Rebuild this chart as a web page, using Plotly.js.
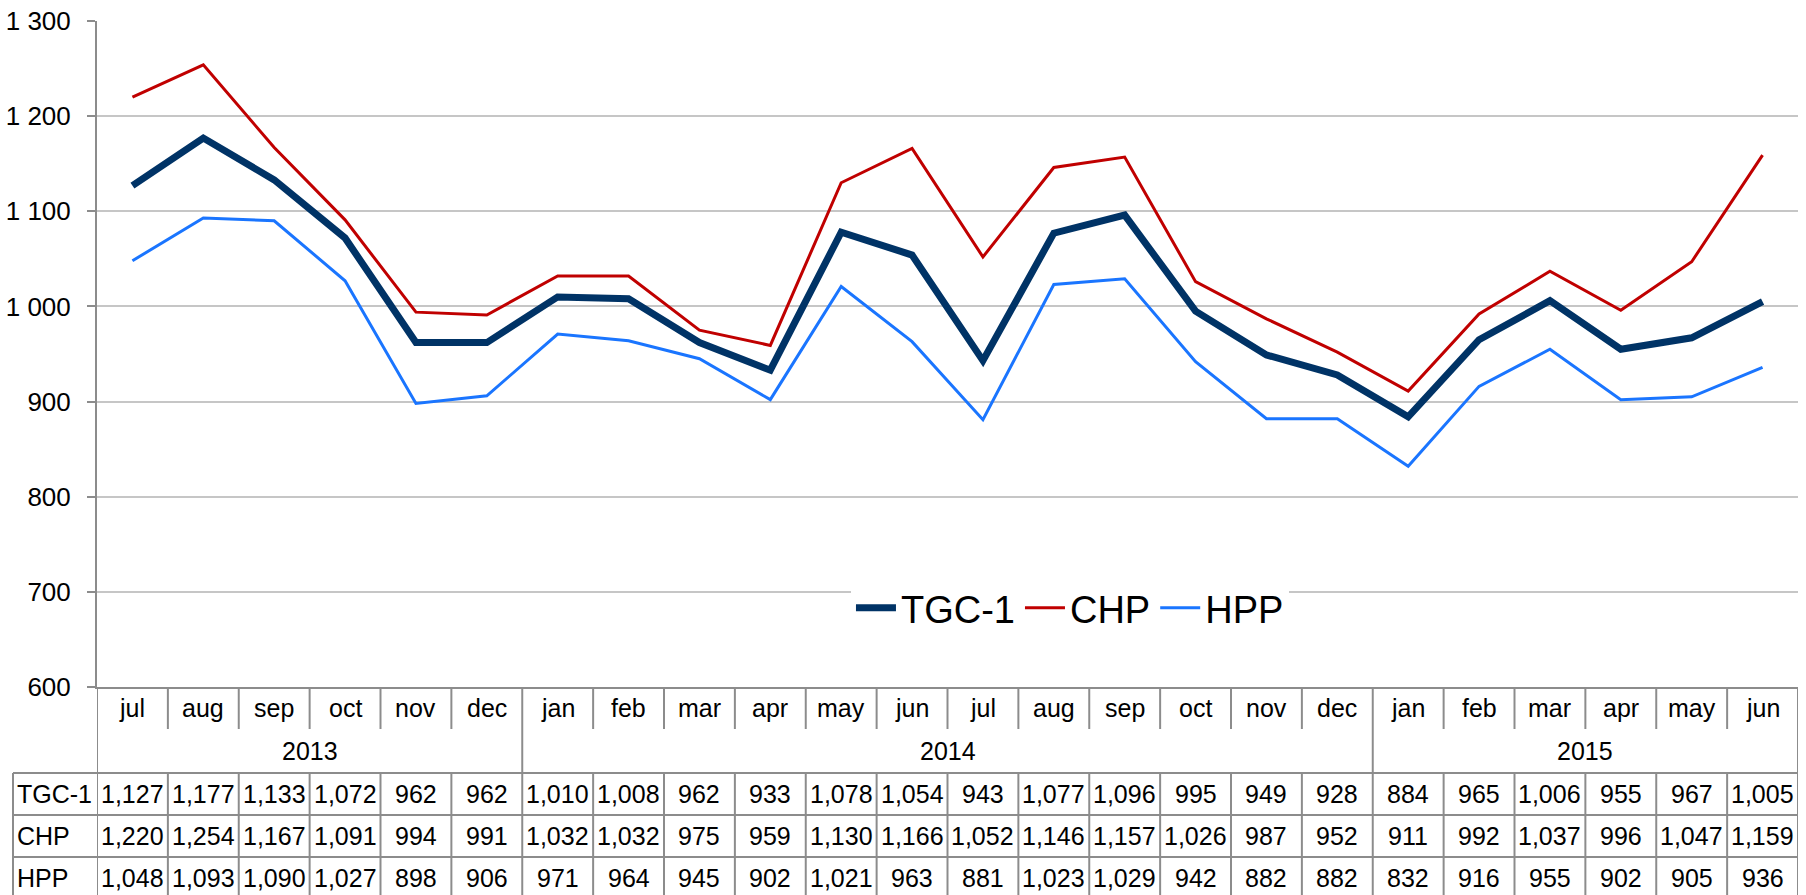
<!DOCTYPE html>
<html>
<head>
<meta charset="utf-8">
<script src="https://cdn.plot.ly/plotly-3.0.1.min.js"></script>
<style>
  html, body { margin: 0; padding: 0; background: #fff; }
  #chart { width: 1806px; height: 895px; }
</style>
</head>
<body>
<div id="chart"></div>
<script>
// months and years for each column of the data table
var months = ['jul', 'aug', 'sep', 'oct', 'nov', 'dec',
              'jan', 'feb', 'mar', 'apr', 'may', 'jun', 'jul', 'aug', 'sep', 'oct', 'nov', 'dec',
              'jan', 'feb', 'mar', 'apr', 'may', 'jun'];
var years = ['2013', '2013', '2013', '2013', '2013', '2013',
             '2014', '2014', '2014', '2014', '2014', '2014', '2014', '2014', '2014', '2014', '2014', '2014',
             '2015', '2015', '2015', '2015', '2015', '2015'];

var seriesNames = ['TGC-1', 'CHP', 'HPP'];
var tgc1 = [1127, 1177, 1133, 1072, 962, 962, 1010, 1008, 962, 933, 1078, 1054,
            943, 1077, 1096, 995, 949, 928, 884, 965, 1006, 955, 967, 1005];
var chp = [1220, 1254, 1167, 1091, 994, 991, 1032, 1032, 975, 959, 1130, 1166,
           1052, 1146, 1157, 1026, 987, 952, 911, 992, 1037, 996, 1047, 1159];
var hpp = [1048, 1093, 1090, 1027, 898, 906, 971, 964, 945, 902, 1021, 963,
           881, 1023, 1029, 942, 882, 882, 832, 916, 955, 902, 905, 936];

var seriesValues = [tgc1, chp, hpp];
var seriesColors = ['#003366', '#c00000', '#1a75ff'];
var seriesWidths = [7, 3, 3];

// page geometry (pixels)
var W = 1806, H = 895;
var mL = 97, mR = 8, mT = 21, mB = 208;
var plotH = H - mT - mB;
var plotW = W - mL - mR;
var plotBottom = H - mB;
var rowH = 42;

function py(px) { return (plotBottom - px) / plotH; }   // pixel y -> paper y
function pxX(px) { return (px - mL) / plotW; }          // pixel x -> paper x

var font = '"Liberation Sans", Arial, sans-serif';
var gridLine = '#8c8c8c';

var idx = months.map(function (m, i) { return i; });

var traces = seriesNames.map(function (name, s) {
    return {
        x: idx,
        y: seriesValues[s],
        name: name,
        type: 'scatter',
        mode: 'lines',
        line: { color: seriesColors[s], width: seriesWidths[s] },
        hoverinfo: 'skip'
    };
});

// row positions of the table below the plot
var yMonthBottom = plotBottom + rowH;
var yTableTop = plotBottom + 2 * rowH + 2;
var yTableBottom = yTableTop + 3 * rowH;

var shapes = [];
var annotations = [];

function vline(x, y0, y1) {
    shapes.push({ type: 'line', xref: 'x', yref: 'paper', x0: x, x1: x,
                  y0: py(y0), y1: py(y1), line: { color: gridLine, width: 2 } });
}

for (var k = 0; k <= months.length; k++) {
    var xb = k - 0.5;
    var isEdge = (k === 0 || k === months.length);
    var isYear = !isEdge && years[k] !== years[k - 1];
    if (isEdge || isYear) {
        vline(xb, plotBottom, yTableBottom);
    } else {
        vline(xb, plotBottom, yMonthBottom);
        vline(xb, yTableTop, yTableBottom);
    }
}

// horizontal table lines
for (var r = 0; r <= seriesNames.length; r++) {
    var yy = py(yTableTop + r * rowH);
    shapes.push({ type: 'line', xref: 'paper', yref: 'paper', x0: pxX(13), x1: 1,
                  y0: yy, y1: yy, line: { color: gridLine, width: 2 } });
}
shapes.push({ type: 'line', xref: 'paper', yref: 'paper', x0: pxX(13), x1: pxX(13),
              y0: py(yTableTop), y1: py(yTableBottom), line: { color: gridLine, width: 2 } });

var cellFont = { family: font, size: 25, color: '#000' };

// month labels
months.forEach(function (m, i) {
    annotations.push({ x: i, y: py(plotBottom + rowH / 2), xref: 'x', yref: 'paper',
                       text: m, showarrow: false, font: cellFont, xanchor: 'center', yanchor: 'middle' });
});

// year labels centred over their months
var start = 0;
for (var i = 1; i <= years.length; i++) {
    if (i === years.length || years[i] !== years[start]) {
        annotations.push({ x: (start + i - 1) / 2, y: py(plotBottom + rowH * 1.5 + 1), xref: 'x', yref: 'paper',
                           text: years[start], showarrow: false, font: cellFont,
                           xanchor: 'center', yanchor: 'middle' });
        start = i;
    }
}

function fmt(v) { return v.toLocaleString('en-US'); }

seriesNames.forEach(function (name, s) {
    var yc = py(yTableTop + rowH * (s + 0.5));
    annotations.push({ x: pxX(15), y: yc, xref: 'paper', yref: 'paper', text: name,
                       showarrow: false, font: cellFont, xanchor: 'left', yanchor: 'middle' });
    seriesValues[s].forEach(function (v, i) {
        annotations.push({ x: i, y: yc, xref: 'x', yref: 'paper', text: fmt(v),
                           showarrow: false, font: cellFont, xanchor: 'center', yanchor: 'middle' });
    });
});

var layout = {
    width: W,
    height: H,
    margin: { l: mL, r: mR, t: mT, b: mB },
    paper_bgcolor: '#fff',
    plot_bgcolor: '#fff',
    separators: '. ',
    font: { family: font, color: '#000' },
    showlegend: true,
    legend: {
        orientation: 'h',
        x: 0.572, y: py(608),
        xanchor: 'center', yanchor: 'middle',
        bgcolor: '#fff',
        font: { family: font, size: 38, color: '#000' },
        itemwidth: 40
    },
    xaxis: {
        range: [-0.5, months.length - 0.5],
        showticklabels: false,
        showgrid: false,
        zeroline: false,
        showline: true,
        linecolor: gridLine,
        linewidth: 2,
        fixedrange: true
    },
    yaxis: {
        range: [600, 1300],
        dtick: 100,
        tickformat: ',d',
        ticks: 'outside',
        ticklen: 8,
        tickwidth: 2,
        tickcolor: gridLine,
        ticklabelstandoff: 11,
        tickfont: { family: font, size: 26, color: '#000' },
        showline: true,
        linecolor: gridLine,
        linewidth: 2,
        gridcolor: '#c6c6c6',
        gridwidth: 2,
        zeroline: false,
        fixedrange: true
    },
    shapes: shapes,
    annotations: annotations
};

Plotly.newPlot('chart', traces, layout, { staticPlot: true });
</script>
</body>
</html>
